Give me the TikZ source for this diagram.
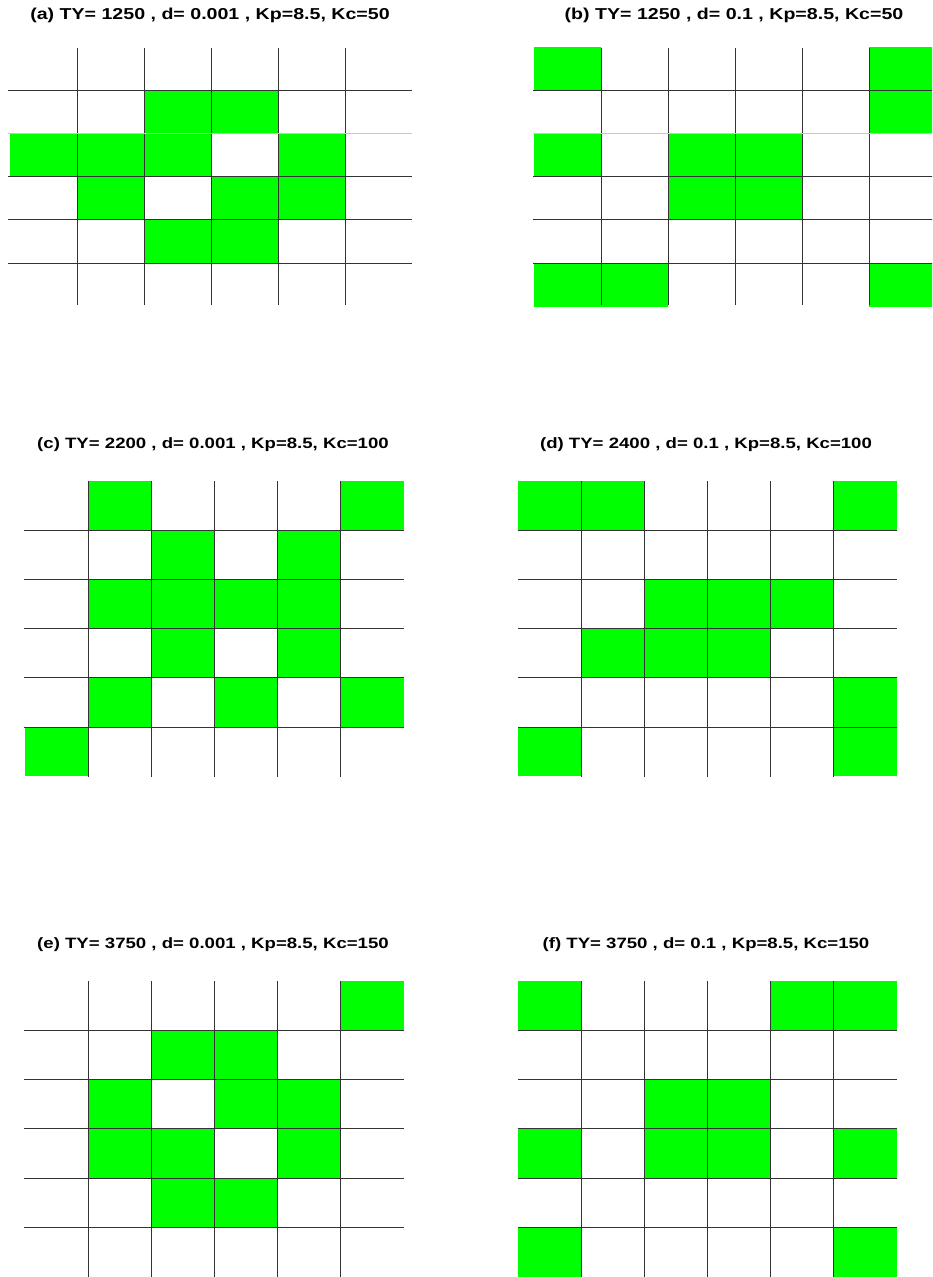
\documentclass[tikz,border=0pt]{standalone}
\usepackage{fontspec}
\newfontfamily\titlefont[FakeStretch=1.24]{Liberation Sans}
\definecolor{cellgreen}{RGB}{0,255,0}
\tikzset{
  cell/.style={fill=cellgreen},
  gridline/.style={draw=black!80, line width=1pt},
  faintline/.style={draw=black!22, line width=1pt},
  title/.style={font=\titlefont\bfseries\fontsize{15.8}{18}\selectfont, inner sep=0pt},
  titlesm/.style={font=\titlefont\bfseries\fontsize{15}{18}\selectfont, inner sep=0pt},
}
\begin{document}
\begin{tikzpicture}[x=1pt, y=-1pt]

  \useasboundingbox (0,0) rectangle (932,1277);
  \clip (0,0) rectangle (932,1277);

  % ── Panel titles ──────────────────────────────────────────────────
  \node[title]   (ta) at (210,15)  {(a) TY= 1250 , d= 0.001 , Kp=8.5, Kc=50};
  \node[title]   (tb) at (734,15)  {(b) TY= 1250 , d= 0.1 , Kp=8.5, Kc=50};
  \node[titlesm] (tc) at (213,445) {(c) TY= 2200 , d= 0.001 , Kp=8.5, Kc=100};
  \node[titlesm] (td) at (706,445) {(d) TY= 2400 , d= 0.1 , Kp=8.5, Kc=100};
  \node[titlesm] (te) at (213,945) {(e) TY= 3750 , d= 0.001 , Kp=8.5, Kc=150};
  \node[titlesm] (tf) at (706,945) {(f) TY= 3750 , d= 0.1 , Kp=8.5, Kc=150};

  % ── (a) cells  (col/row) ─────────────────────────────────────────
  \foreach \c/\r in {2/1,3/1,0/2,1/2,2/2,4/2,1/3,3/3,4/3,2/4,3/4}{
    \fill[cell] (10+\c*67, 46.7+\r*43.3) rectangle ++(67,43.3);
  }
  % ── (b) cells ────────────────────────────────────────────────────
  \foreach \c/\r in {0/0,5/0,5/1,0/2,2/2,3/2,2/3,3/3,0/5,1/5,5/5}{
    \fill[cell] (534+\c*67, 46.7+\r*43.3) rectangle ++(67,43.3);
  }
  % ── (c) cells ────────────────────────────────────────────────────
  \foreach \c/\r in {1/0,5/0,2/1,4/1,1/2,2/2,3/2,4/2,2/3,4/3,1/4,3/4,5/4,0/5}{
    \fill[cell] (24.9+\c*63.1, 480.8+\r*49.25) rectangle ++(63.1,49.25);
  }
  % ── (d) cells ────────────────────────────────────────────────────
  \foreach \c/\r in {0/0,1/0,5/0,2/2,3/2,4/2,1/3,2/3,3/3,5/4,0/5,5/5}{
    \fill[cell] (517.9+\c*63.1, 480.8+\r*49.25) rectangle ++(63.1,49.25);
  }
  % ── (e) cells ────────────────────────────────────────────────────
  \foreach \c/\r in {5/0,2/1,3/1,1/2,3/2,4/2,1/3,2/3,4/3,2/4,3/4}{
    \fill[cell] (24.9+\c*63.1, 980.6+\r*49.4) rectangle ++(63.1,49.4);
  }
  % ── (f) cells ────────────────────────────────────────────────────
  \foreach \c/\r in {0/0,4/0,5/0,2/2,3/2,0/3,2/3,3/3,5/3,0/5,5/5}{
    \fill[cell] (517.9+\c*63.1, 980.6+\r*49.4) rectangle ++(63.1,49.4);
  }

  % ── Grid lines, top row (a) and (b) ───────────────────────────────
  \foreach \i in {1,...,5}{
    \draw[gridline] (10+\i*67, 47.7) -- (10+\i*67, 305.3);
    \draw[gridline] (534+\i*67, 47.7) -- (534+\i*67, 305.3);
  }
  \foreach \i in {1,3,4,5}{
    \draw[gridline] (8, 46.7+\i*43.3) -- (412, 46.7+\i*43.3);
    \draw[gridline] (533, 46.7+\i*43.3) -- (940, 46.7+\i*43.3);
  }
  \draw[faintline] (8, 133.3) -- (412, 133.3);
  \draw[faintline] (533, 133.3) -- (940, 133.3);

  % ── Grid lines, middle row (c) and (d) ────────────────────────────
  \foreach \i in {1,...,5}{
    \draw[gridline] (24.9+\i*63.1, 481) -- (24.9+\i*63.1, 776.5);
    \draw[gridline] (517.9+\i*63.1, 481) -- (517.9+\i*63.1, 776.5);
    \draw[gridline] (24, 480.8+\i*49.25) -- (403.6, 480.8+\i*49.25);
    \draw[gridline] (517.9, 480.8+\i*49.25) -- (897, 480.8+\i*49.25);
  }

  % ── Grid lines, bottom row (e) and (f) ────────────────────────────
  \foreach \i in {1,...,5}{
    \draw[gridline] (24.9+\i*63.1, 981) -- (24.9+\i*63.1, 1277);
    \draw[gridline] (517.9+\i*63.1, 981) -- (517.9+\i*63.1, 1277);
    \draw[gridline] (24, 980.6+\i*49.4) -- (403.6, 980.6+\i*49.4);
    \draw[gridline] (517.9, 980.6+\i*49.4) -- (897, 980.6+\i*49.4);
  }

\end{tikzpicture}
\end{document}
